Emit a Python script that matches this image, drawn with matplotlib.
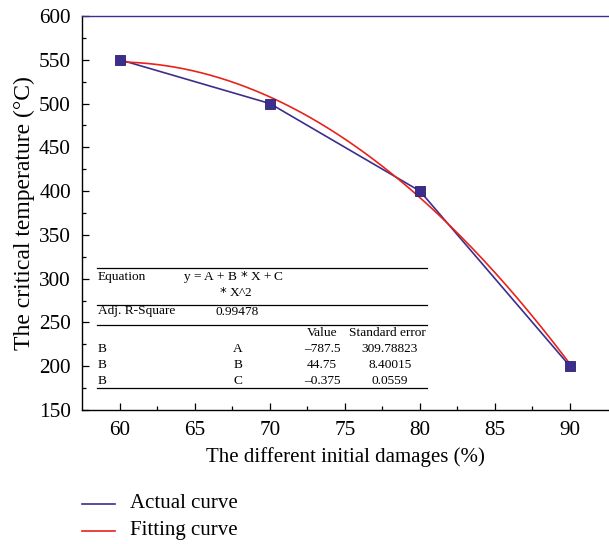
import numpy as np
import matplotlib.pyplot as plt

plt.rcParams['font.family'] = ['Liberation Serif', 'DejaVu Serif']

# measured points
damage = [60, 70, 80, 90]
temperature = [550, 500, 400, 200]

# quadratic fit coefficients printed in the chart's table
coef_a = -787.5
coef_b = 44.75
coef_c = -0.375
coef_err = ['309.78823', '8.40015', '0.0559']
adj_r2 = '0.99478'

xticks = [60, 65, 70, 75, 80, 85, 90]
yticks = [150, 200, 250, 300, 350, 400, 450, 500, 550, 600]

blue = '#3b2e8c'
red = '#e8231c'

fig = plt.figure(figsize=(6.09, 5.44), dpi=100)
ax = fig.add_axes([82 / 609, 134 / 544, 527 / 609, 394 / 544])

xs = np.linspace(damage[0], damage[-1], 200)
fit = coef_a + coef_b * xs + coef_c * xs ** 2
ax.plot(damage, temperature, color=blue, lw=1.2, zorder=3)
ax.plot(xs, fit, color=red, lw=1.2, zorder=4)
ax.plot(damage, temperature, 's', color=blue, ms=6.5, mec='#2a1f70', mew=0.6, zorder=5)

ax.set_xlim(57.47, 92.6)
ax.set_ylim(150, 600)
ax.set_xticks(xticks)
ax.set_yticks(yticks)
ax.set_xticks(np.arange(62.5, 92, 5), minor=True)
ax.set_yticks(np.arange(175, 600, 50), minor=True)
ax.tick_params(direction='in', length=5, width=0.9, labelsize=15.3, pad=8)
ax.tick_params(which='minor', direction='in', length=3, width=0.9)
ax.tick_params(axis='x', pad=8)
ax.spines['right'].set_visible(False)
ax.spines['top'].set_color(blue)
for s in ['left', 'bottom', 'top']:
    ax.spines[s].set_linewidth(1.0)

ax.set_xlabel('The different initial damages (%)', fontsize=15, labelpad=5)
ax.set_ylabel('The critical temperature (°C)', fontsize=17, labelpad=3)

# fit table drawn inside the axes (figure pixel coords)
def fx(px):
    return px / 609

def fy(py):
    return 1 - py / 544

tf = 9.6
for py in [268, 305, 325, 388]:
    fig.add_artist(plt.Line2D([fx(97), fx(427)], [fy(py), fy(py)], color='black', lw=0.9))
fig.text(fx(98), fy(277), 'Equation', fontsize=tf, va='center')
fig.text(fx(183), fy(277), 'y = A + B $*$ X + C', fontsize=tf, va='center')
fig.text(fx(219), fy(293), '$*$ X^2', fontsize=tf, va='center')
fig.text(fx(98), fy(311), 'Adj. R-Square', fontsize=tf, va='center')
fig.text(fx(215), fy(312), adj_r2, fontsize=tf, va='center')
fig.text(fx(322), fy(333), 'Value', fontsize=tf, va='center', ha='center')
fig.text(fx(387), fy(333), 'Standard error', fontsize=tf, va='center', ha='center')
names = ['A', 'B', 'C']
vals = [coef_a, coef_b, coef_c]
for i, (n, v, e) in enumerate(zip(names, vals, coef_err)):
    yy = fy(349 + 16 * i)
    fig.text(fx(98), yy, 'B', fontsize=tf, va='center')
    fig.text(fx(238), yy, n, fontsize=tf, va='center', ha='center')
    fig.text(fx(322), yy, ('%g' % v).replace('-', '\u2013'), fontsize=tf, va='center', ha='center')
    fig.text(fx(390), yy, e, fontsize=tf, va='center', ha='center')

# legend below the axes
for py, col, lab in [(504, blue, 'Actual curve'), (531, red, 'Fitting curve')]:
    fig.add_artist(plt.Line2D([fx(82), fx(115)], [fy(py), fy(py)], color=col, lw=1.2))
    fig.text(fx(130), fy(py), lab, fontsize=15, va='center')

fig.savefig('out.png', dpi=100)
